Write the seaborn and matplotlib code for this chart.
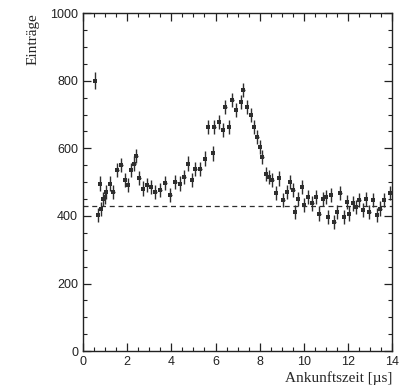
import numpy as np
import pandas as pd
import seaborn as sns
import matplotlib
matplotlib.use("Agg")
import matplotlib.pyplot as plt
from matplotlib.ticker import MultipleLocator

# Arrival time (µs) and entries
zeit = [0.55, 0.67, 0.77, 0.82, 0.92, 1.0, 1.03, 1.2, 1.38, 1.56, 1.73, 1.88, 2.03,
        2.18, 2.32, 2.41, 2.55, 2.71, 2.92, 3.07, 3.27, 3.5, 3.73, 3.95, 4.18, 4.38,
        4.59, 4.76, 4.94, 5.09, 5.32, 5.51, 5.65, 5.88, 5.95, 6.15, 6.33, 6.45, 6.6,
        6.76, 6.91, 7.14, 7.26, 7.41, 7.59, 7.74, 7.9, 8.01, 8.12, 8.27, 8.42, 8.58,
        8.73, 8.88, 9.07, 9.23, 9.38, 9.53, 9.59, 9.74, 9.9, 10.01, 10.17, 10.39,
        10.55, 10.7, 10.85, 11.0, 11.1, 11.23, 11.38, 11.5, 11.65, 11.8, 11.95, 12.05,
        12.21, 12.36, 12.51, 12.67, 12.82, 12.97, 13.12, 13.32, 13.47, 13.62, 13.88]
eintraege = [800, 402, 496, 420, 451, 456, 471, 496, 471, 535, 550, 506, 491,
             535, 555, 577, 512, 481, 491, 486, 471, 476, 498, 462, 501, 496,
             516, 555, 506, 540, 540, 570, 664, 585, 664, 678, 654, 723, 664,
             743, 713, 738, 772, 723, 698, 664, 634, 604, 575, 525, 516, 506,
             467, 511, 447, 471, 501, 476, 412, 451, 486, 432, 456, 437,
             456, 407, 451, 456, 397, 461, 383, 412, 467, 397, 442, 407,
             437, 427, 447, 417, 451, 412, 447, 402, 422, 447, 467]
fehler = [25] + [21] * (len(zeit) - 1)
untergrund = 430

df = pd.DataFrame({"zeit": zeit, "eintraege": eintraege, "fehler": fehler})

sns.set_style("ticks")
plt.rcParams["font.family"] = ["Liberation Sans", "DejaVu Sans"]

fig = plt.figure(figsize=(4.01, 3.88), dpi=100)
ax = fig.add_axes([0.207, 0.095, 0.771, 0.871])

col = "#2e2e2e"
ax.errorbar(df["zeit"], df["eintraege"], yerr=df["fehler"], xerr=0.06,
            fmt="none", ecolor=col, elinewidth=1.0, capsize=0)
sns.scatterplot(data=df, x="zeit", y="eintraege", ax=ax, color=col, s=8,
                marker="s", edgecolor=col, linewidth=0, zorder=3)
ax.axhline(untergrund, color=col, ls=(0, (4, 3)), lw=0.9)

ax.set_xlim(0, 14)
ax.set_ylim(0, 1000)
ax.xaxis.set_major_locator(MultipleLocator(2))
ax.xaxis.set_minor_locator(MultipleLocator(0.5))
ax.yaxis.set_major_locator(MultipleLocator(200))
ax.yaxis.set_minor_locator(MultipleLocator(50))
ax.tick_params(which="both", direction="in", top=True, right=True,
               labelsize=9, colors="#222222")
ax.tick_params(which="major", length=6, width=0.9)
ax.tick_params(which="minor", length=3, width=0.8)
for s in ax.spines.values():
    s.set_visible(True)
    s.set_linewidth(1.0)
    s.set_color("#222222")

ax.set_xlabel("Ankunftszeit [µs]", fontsize=11, family=["Liberation Serif", "DejaVu Serif"],
              loc="right", labelpad=2)
ax.set_ylabel("Einträge", fontsize=11, family=["Liberation Serif", "DejaVu Serif"],
              loc="top", labelpad=8)

fig.savefig("out.png", dpi=100)
